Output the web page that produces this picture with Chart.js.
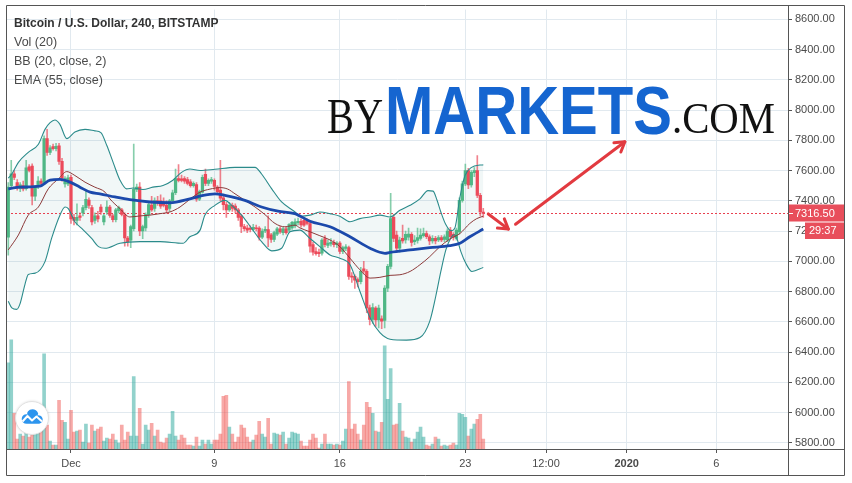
<!DOCTYPE html>
<html><head><meta charset="utf-8">
<script src="https://cdn.jsdelivr.net/npm/chart.js@4.4.1/dist/chart.umd.min.js"></script>
<style>
html,body{margin:0;padding:0;background:#fff;}
canvas{display:block;}
</style></head><body>
<canvas id="c" width="852" height="483" style="width:852px;height:483px"></canvas>
<script>
// ---------- data ----------
const symbolTitle = 'Bitcoin / U.S. Dollar, 240, BITSTAMP';
const studyLabels = ['Vol (20)', 'BB (20, close, 2)', 'EMA (55, close)'];
const timeTickDays = [0, 8, 15, 22, 26.5, 31, 36];          // days after Dec 1 00:00
const timeTickLabels = ['Dec', '9', '16', '23', '12:00', '2020', '6'];
const priceTicks = [5800, 6000, 6200, 6400, 6600, 6800, 7000, 7200, 7400, 7600, 7800, 8000, 8200, 8400, 8600];
const firstCandleDay = -3.5;   // Nov 27 12:00
const candlesPerDay = 6;       // 240-minute bars
const lastPrice = 7316.5;
const barTimer = '29:37';

// [open, high, low, close]
const ohlc = [
 [7160,7520,7040,7490],[7500,7667,7480,7578],[7578,7600,7540,7555],[7520,7540,7470,7485],[7480,7520,7460,7505],
 [7500,7530,7465,7478],[7480,7667,7470,7617],[7625,7640,7590,7600],[7630,7645,7373,7430],[7431,7500,7400,7490],
 [7495,7560,7480,7530],[7530,7545,7500,7515],[7522,7830,7510,7811],[7811,7873,7700,7720],[7720,7765,7705,7750],
 [7758,7775,7735,7745],[7745,7780,7730,7760],[7764,7780,7640,7660],[7660,7680,7530,7550],[7512,7560,7490,7546],
 [7512,7570,7500,7552],[7555,7570,7250,7280],[7290,7310,7240,7270],[7270,7380,7240,7290],[7300,7320,7270,7290],
 [7320,7370,7300,7355],[7355,7470,7340,7410],[7405,7420,7350,7370],[7355,7370,7240,7260],[7270,7320,7250,7300],
 [7300,7330,7260,7280],[7358,7375,7310,7326],[7260,7310,7240,7300],[7326,7400,7310,7358],[7358,7370,7290,7303],
 [7300,7310,7260,7275],[7275,7350,7260,7340],[7335,7365,7320,7355],[7340,7350,7300,7310],[7307,7320,7100,7155],
 [7153,7165,7100,7130],[7140,7240,7090,7230],[7215,7775,7200,7475],[7475,7510,7460,7490],[7490,7520,7170,7200],
 [7200,7240,7150,7230],[7220,7320,7200,7308],[7308,7390,7290,7375],[7372,7430,7330,7340],[7350,7420,7330,7400],
 [7400,7430,7370,7390],[7400,7440,7350,7365],[7380,7420,7360,7370],[7370,7400,7320,7340],[7350,7410,7330,7400],
 [7400,7470,7390,7453],[7453,7610,7440,7546],[7546,7640,7525,7535],[7545,7570,7525,7535],[7546,7560,7515,7530],
 [7540,7555,7505,7515],[7525,7540,7490,7500],[7500,7525,7490,7515],[7507,7520,7395,7410],[7410,7470,7400,7460],
 [7457,7570,7450,7555],[7575,7610,7500,7515],[7515,7545,7500,7535],[7530,7555,7515,7540],[7535,7545,7470,7495],
 [7490,7500,7450,7460],[7470,7667,7400,7418],[7420,7430,7340,7375],[7375,7390,7290,7340],[7340,7390,7330,7370],
 [7370,7385,7330,7350],[7365,7380,7320,7340],[7340,7350,7270,7290],[7300,7310,7190,7230],[7230,7245,7200,7215],
 [7220,7240,7190,7205],[7220,7235,7195,7210],[7210,7245,7200,7225],[7222,7240,7200,7215],[7220,7230,7140,7160],
 [7160,7215,7150,7200],[7200,7230,7190,7212],[7210,7300,7097,7155],[7175,7185,7125,7145],[7145,7200,7130,7190],
 [7180,7225,7170,7215],[7215,7230,7185,7195],[7190,7225,7175,7215],[7215,7225,7180,7190],[7206,7250,7195,7243],
 [7221,7265,7210,7257],[7234,7280,7220,7261],[7255,7285,7240,7265],[7265,7280,7225,7240],[7270,7285,7230,7239],
 [7265,7280,7240,7250],[7250,7265,7060,7100],[7110,7125,7040,7060],[7065,7090,7040,7050],[7060,7080,7030,7050],
 [7053,7150,7040,7141],[7150,7170,7095,7110],[7105,7140,7090,7120],[7115,7150,7100,7125],[7125,7140,7095,7110],
 [7110,7130,7090,7120],[7120,7130,7050,7065],[7065,7100,7050,7090],[7085,7110,7070,7095],[7090,7100,6880,6900],
 [6900,6925,6860,6895],[6900,6910,6820,6875],[6880,6890,6830,6865],[6865,6960,6850,6933],[6950,7000,6920,6935],
 [6933,6945,6660,6692],[6692,6710,6580,6616],[6616,6720,6590,6694],[6690,6700,6570,6612],[6612,6710,6560,6690],
 [6620,6640,6555,6605],[6610,6840,6560,6823],[6823,6980,6800,6966],[6966,7450,6950,7283],[7290,7310,7130,7151],
 [7174,7200,7060,7086],[7086,7160,7060,7141],[7151,7240,7120,7134],[7141,7200,7120,7178],[7160,7220,7140,7180],
 [7178,7190,7100,7125],[7130,7170,7110,7141],[7138,7220,7120,7156],[7151,7215,7140,7174],[7170,7220,7160,7184],
 [7184,7200,7150,7162],[7162,7175,7110,7134],[7134,7170,7120,7151],[7151,7165,7115,7134],[7141,7170,7130,7156],
 [7156,7170,7130,7141],[7145,7175,7130,7162],[7141,7215,7130,7200],[7206,7225,7150,7162],[7178,7190,7140,7160],
 [7151,7220,7140,7206],[7195,7420,7180,7403],[7403,7530,7390,7512],[7512,7643,7500,7600],[7600,7615,7480,7505],
 [7505,7600,7490,7588],[7585,7620,7560,7600],[7600,7698,7420,7436],[7436,7450,7300,7326],[7326,7350,7290,7316.5]
];

// volume (relative units)
const volumes = [
 87,110,36,10,15,13,22,12,30,18,
 19,24,96,24,8,4,4,49,29,27,
 10,39,17,18,19,7,25,6,24,18,
 20,22,8,11,10,15,9,6,24,9,
 17,13,73,13,41,5,24,19,26,13,
 19,7,6,11,15,38,13,9,14,11,
 4,4,3,12,3,9,5,9,5,9,
 9,15,53,54,22,15,7,12,24,21,
 12,7,9,14,28,15,12,31,5,16,
 15,14,17,5,11,17,16,15,8,3,
 3,9,15,11,1,5,15,5,5,4,
 5,4,8,20,68,20,25,15,9,24,
 47,42,36,18,17,27,104,50,81,24,
 25,46,18,12,11,7,10,17,22,12,
 4,3,5,12,10,3,4,3,4,6,
 4,36,35,32,13,20,25,30,35,10
];

// indicator lines read at sample positions: [candle index, price]
const emaPts = [[0,7479],[4,7490],[10.6,7497],[14,7536],[17.3,7541],[20.7,7523],[24,7490],[27.4,7457],[30.7,7446],
 [35.7,7425],[40.7,7407],[47.4,7392],[54.1,7387],[60.8,7413],[64.2,7431],[69.2,7446],[72.5,7436],[79.2,7403],
 [84.8,7359],[90.3,7331],[95.9,7315],[101,7265],[107.7,7228],[114.4,7162],[121.1,7086],[126.1,7053],[127.8,7059],
 [134.5,7075],[141.1,7090],[147.8,7103],[151.2,7119],[154.5,7162],[159,7213]];
const bbBasisPts = [[0,7075],[3.4,7174],[6.7,7305],[10.1,7359],[13.4,7479],[16.8,7545],[19.6,7593],[22.3,7567],
 [25.7,7523],[29,7490],[32.4,7457],[34,7413],[37.4,7348],[40.7,7293],[44.1,7300],[47.4,7305],[50.8,7315],[54.1,7326],
 [57.5,7359],[60.8,7410],[64.2,7457],[67.5,7477],[70.9,7487],[73.5,7477],[75.9,7446],[79.2,7403],[82.6,7359],
 [85.9,7309],[89.3,7250],[92.6,7228],[96,7239],[97.6,7221],[101,7195],[104.3,7169],[107.7,7141],[111,7097],
 [114.4,7020],[117.7,6944],[121.1,6889],[124.4,6894],[127.8,6907],[131.1,6911],[134.5,6933],[137.8,6977],
 [141.1,7031],[144.5,7097],[147.8,7147],[151.2,7184],[154.5,7250],[156.8,7282],[159,7298]];
const bbUpperPts = [[0,7550],[1.2,7577],[3.4,7654],[6.7,7720],[10.1,7774],[12.3,7872],[14,7916],[15.6,7934],
 [17.3,7905],[19.6,7811],[22.3,7855],[25.7,7872],[29,7862],[31,7850],[33,7765],[35.1,7654],[37.4,7536],[39.6,7479],
 [41.8,7484],[45.1,7475],[48.4,7490],[51.8,7501],[55.1,7536],[58,7588],[60.8,7610],[64.2,7600],[69.2,7608],
 [75.9,7621],[82.6,7621],[84.8,7577],[88.2,7479],[91.5,7392],[96,7326],[97.6,7298],[101,7305],[104.3,7326],
 [107.7,7315],[111,7298],[114.4,7261],[117.7,7282],[121.1,7293],[124.4,7305],[127.8,7293],[131.1,7337],
 [134.5,7370],[137.8,7413],[140.5,7467],[142.2,7464],[143.5,7405],[144.8,7326],[146.5,7241],[148.2,7202],
 [149.5,7221],[151.2,7425],[152.9,7567],[155.1,7621],[157.9,7636],[159,7637]];
const bbLowerPts = [[0,6736],[1.2,6692],[2.8,6682],[3.9,6717],[5.6,6848],[6.7,6913],[9,6922],[12.3,6998],
 [14.5,7151],[17.3,7305],[19,7359],[20.1,7348],[22.3,7261],[24.6,7217],[27.9,7151],[30.2,7097],[32.4,7086],
 [37.4,7119],[44.1,7130],[50.8,7130],[58.5,7119],[60.8,7162],[64.2,7206],[65.8,7305],[69.2,7370],[72.5,7403],
 [74.8,7370],[78.1,7305],[81.5,7217],[84.8,7130],[88.2,7069],[91.5,7086],[94.3,7195],[97.6,7206],[101,7151],
 [104.3,7097],[107.7,7042],[111,7020],[114.4,6977],[117.7,6802],[121.1,6627],[124.4,6528],[127.8,6485],
 [133.3,6479],[137.8,6496],[141.1,6605],[143.1,6769],[144.8,6933],[146.5,7077],[148.2,7156],[149.2,7175],
 [150.2,7149],[151.5,7064],[153.2,6985],[155.2,6933],[159,6959]];

// annotation arrows in data units: [day, price] start -> end
const arrowSegments = [[[23.28,7313],[24.4,7213]], [[24.8,7245],[30.9,7790]]];

// ---------- styling ----------
const UP = '#4fb785', DOWN = '#ec4a5a';
const UP_WICK = 'rgba(83,185,135,0.7)', DOWN_WICK = 'rgba(235,77,92,0.7)';
const UP_VOL = 'rgba(38,166,154,0.5)', DOWN_VOL = 'rgba(239,83,80,0.5)';
const GRID = '#e1e9ef', FRAME = '#555555', TXT = '#4a4a4a';
const FONT = "'Liberation Sans', Arial, sans-serif";

const dayOf = i => firstCandleDay + i / candlesPerDay;
const isUp = i => ohlc[i][3] >= ohlc[i][0];
const toLine = pts => pts.map(([i, p]) => ({x: dayOf(i), y: p}));

Chart.defaults.font.family = FONT;

function fitText(ctx, text, x, base, width, font, color) {
  ctx.save();
  ctx.font = font;
  const w = ctx.measureText(text).width;
  ctx.translate(x, base);
  ctx.scale(width / w, 1);
  ctx.fillStyle = color;
  ctx.textBaseline = 'alphabetic';
  ctx.fillText(text, 0, 0);
  ctx.restore();
}
function arrowLine(ctx, x1, y1, x2, y2) {
  ctx.beginPath(); ctx.moveTo(x1, y1); ctx.lineTo(x2, y2); ctx.stroke();
  const a = Math.atan2(y2 - y1, x2 - x1), L = 11, w = 0.55;
  ctx.beginPath();
  ctx.moveTo(x2 - L * Math.cos(a - w), y2 - L * Math.sin(a - w));
  ctx.lineTo(x2, y2);
  ctx.lineTo(x2 - L * Math.cos(a + w), y2 - L * Math.sin(a + w));
  ctx.stroke();
}

const overlay = {
  id: 'overlay',
  beforeDatasetsDraw(chart) {
    const {ctx, chartArea: a, scales: {y}} = chart;
    const py = Math.round(y.getPixelForValue(lastPrice)) + 0.5;
    ctx.save();
    ctx.strokeStyle = '#e8404f'; ctx.lineWidth = 1; ctx.setLineDash([2, 2]);
    ctx.beginPath(); ctx.moveTo(a.left, py); ctx.lineTo(a.right, py); ctx.stroke();
    ctx.restore();
  },
  afterDraw(chart) {
    const {ctx, chartArea: a, scales: {x, y}} = chart;
    ctx.save();
    // legend texts
    ctx.textBaseline = 'alphabetic'; ctx.textAlign = 'left';
    ctx.fillStyle = '#333'; ctx.font = 'bold 12px ' + FONT;
    ctx.fillText(symbolTitle, 14, 26.5);
    ctx.fillStyle = TXT; ctx.font = '12.5px ' + FONT;
    studyLabels.forEach((t, k) => ctx.fillText(t, 14, 45.5 + k * 19.3));
    // watermark logo
    fitText(ctx, 'BY', 327, 133, 56, '50px "Liberation Serif", serif', '#111');
    fitText(ctx, 'MARKETS', 385, 134, 287, 'bold 68px "Liberation Sans", Arial, sans-serif', '#1565d0');
    fitText(ctx, '.COM', 672, 133, 103, '45px "Liberation Serif", serif', '#111');
    // arrows
    ctx.strokeStyle = '#e23a40'; ctx.lineWidth = 3; ctx.lineCap = 'round'; ctx.lineJoin = 'round';
    arrowSegments.forEach(([s, e]) => arrowLine(ctx, x.getPixelForValue(s[0]), y.getPixelForValue(s[1]),
      x.getPixelForValue(e[0]), y.getPixelForValue(e[1])));
    // price label + timer
    const py = Math.round(y.getPixelForValue(lastPrice));
    ctx.fillStyle = '#e84e5b';
    ctx.fillRect(a.right, py - 8.5, 57, 17);
    ctx.fillRect(a.right + 17, py + 9.5, 40, 16.5);
    ctx.strokeStyle = '#fff'; ctx.lineWidth = 1; ctx.lineCap = 'butt';
    ctx.beginPath(); ctx.moveTo(a.right + 1, py + 0.5); ctx.lineTo(a.right + 5, py + 0.5); ctx.stroke();
    ctx.fillStyle = '#fff'; ctx.font = '11px ' + FONT; ctx.textBaseline = 'middle';
    ctx.fillText(lastPrice.toFixed(2), a.right + 7, py + 0.5);
    ctx.fillText(barTimer, a.right + 21, py + 18);
    // TradingView badge
    ctx.save();
    ctx.shadowColor = 'rgba(0,0,0,0.18)'; ctx.shadowBlur = 3;
    ctx.beginPath(); ctx.arc(32, 418, 16.5, 0, Math.PI * 2); ctx.fillStyle = '#fff'; ctx.fill();
    ctx.restore();
    ctx.strokeStyle = '#e2e2e2'; ctx.lineWidth = 1;
    ctx.beginPath(); ctx.arc(32, 418, 16.5, 0, Math.PI * 2); ctx.stroke();
    ctx.fillStyle = '#2d95ee';
    ctx.beginPath();
    ctx.arc(26.5, 419, 4.8, Math.PI * 0.5, Math.PI * 1.6);
    ctx.arc(32.5, 415, 5.8, Math.PI * 1.1, Math.PI * 1.95);
    ctx.arc(38.5, 419.5, 4.2, Math.PI * 1.4, Math.PI * 0.5);
    ctx.closePath(); ctx.fill();
    ctx.strokeStyle = '#fff'; ctx.lineWidth = 2; ctx.lineJoin = 'round';
    ctx.beginPath(); ctx.moveTo(22.5, 421.5); ctx.lineTo(27.5, 416); ctx.lineTo(32, 420.5); ctx.lineTo(36.5, 416.5); ctx.lineTo(42, 421.5); ctx.stroke();
    // frame
    ctx.strokeStyle = FRAME; ctx.lineWidth = 1;
    ctx.strokeRect(6.5, 5.5, 838, 470);
    ctx.beginPath(); ctx.moveTo(6, a.bottom + 0.5); ctx.lineTo(845, a.bottom + 0.5); ctx.stroke();
    ctx.beginPath(); ctx.moveTo(a.right + 0.5, 5); ctx.lineTo(a.right + 0.5, 476); ctx.stroke();
    ctx.restore();
  }
};

new Chart(document.getElementById('c'), {
  type: 'bar',
  data: {
    datasets: [
      {type: 'line', label: 'EMA', data: toLine(emaPts), borderColor: '#1b49ab', borderWidth: 2.8,
       pointRadius: 0, cubicInterpolationMode: 'monotone', order: 0, yAxisID: 'y'},
      {type: 'line', label: 'Basis', data: toLine(bbBasisPts), borderColor: '#8c3a3a', borderWidth: 1,
       pointRadius: 0, cubicInterpolationMode: 'monotone', order: 1, yAxisID: 'y'},
      {type: 'line', label: 'Upper', data: toLine(bbUpperPts), borderColor: '#2b8b8b', borderWidth: 1.1,
       pointRadius: 0, cubicInterpolationMode: 'monotone', order: 2, yAxisID: 'y'},
      {type: 'line', label: 'Lower', data: toLine(bbLowerPts), borderColor: '#2b8b8b', borderWidth: 1.1,
       pointRadius: 0, cubicInterpolationMode: 'monotone', order: 3, yAxisID: 'y',
       fill: '-1', backgroundColor: 'rgba(40,140,140,0.065)'},
      {label: 'Body', data: ohlc.map((c, i) => ({x: dayOf(i), y: [Math.min(c[0], c[3]), Math.max(c[0], c[3])]})),
       backgroundColor: ctx => isUp(ctx.dataIndex) ? UP : DOWN, grouped: false, order: 4, yAxisID: 'y',
       barPercentage: 1, categoryPercentage: 1, maxBarThickness: 2.6, minBarLength: 1, borderWidth: 0},
      {label: 'Wick', data: ohlc.map((c, i) => ({x: dayOf(i), y: [c[2], c[1]]})),
       backgroundColor: ctx => isUp(ctx.dataIndex) ? UP_WICK : DOWN_WICK, grouped: false, order: 5, yAxisID: 'y',
       barPercentage: 1, categoryPercentage: 1, maxBarThickness: 1, borderWidth: 0},
      {label: 'Volume', data: volumes.map((v, i) => ({x: dayOf(i), y: v})),
       backgroundColor: ctx => isUp(ctx.dataIndex) ? UP_VOL : DOWN_VOL, grouped: false, order: 6, yAxisID: 'yv',
       barPercentage: 1, categoryPercentage: 1, maxBarThickness: 3, borderWidth: 0}
    ]
  },
  options: {
    responsive: false, devicePixelRatio: 1, animation: false,
    layout: {padding: {left: 7, right: 7, top: 6, bottom: 7}},
    plugins: {legend: {display: false}, tooltip: {enabled: false}, filler: {drawTime: 'beforeDatasetsDraw'}},
    scales: {
      x: {
        type: 'linear', position: 'bottom', min: -3.57, max: 40, offset: false,
        afterBuildTicks: s => { s.ticks = timeTickDays.map(v => ({value: v})); },
        afterFit: s => { s.height = 27; },
        ticks: {
          autoSkip: false, maxRotation: 0, minRotation: 0, padding: 4, color: TXT,
          callback: (v, i) => timeTickLabels[i],
          font: c => ({size: 11, family: FONT, weight: (c.tick && c.tick.value === 31) ? 'bold' : 'normal'})
        },
        grid: {color: GRID, tickColor: FRAME, tickLength: 4, offset: false},
        border: {display: true, color: FRAME}
      },
      y: {
        type: 'linear', position: 'right', min: 5759.4, max: 8663.6,
        afterBuildTicks: s => { s.ticks = priceTicks.map(v => ({value: v})); },
        afterFit: s => { s.width = 57; },
        ticks: {padding: 3, color: TXT, font: {size: 11, family: FONT}, callback: v => Number(v).toFixed(2)},
        grid: {color: GRID, tickColor: FRAME, tickLength: 4},
        border: {display: true, color: FRAME}
      },
      yv: {type: 'linear', display: false, min: 0, max: 443}
    }
  },
  plugins: [overlay]
});
</script>
</body></html>
